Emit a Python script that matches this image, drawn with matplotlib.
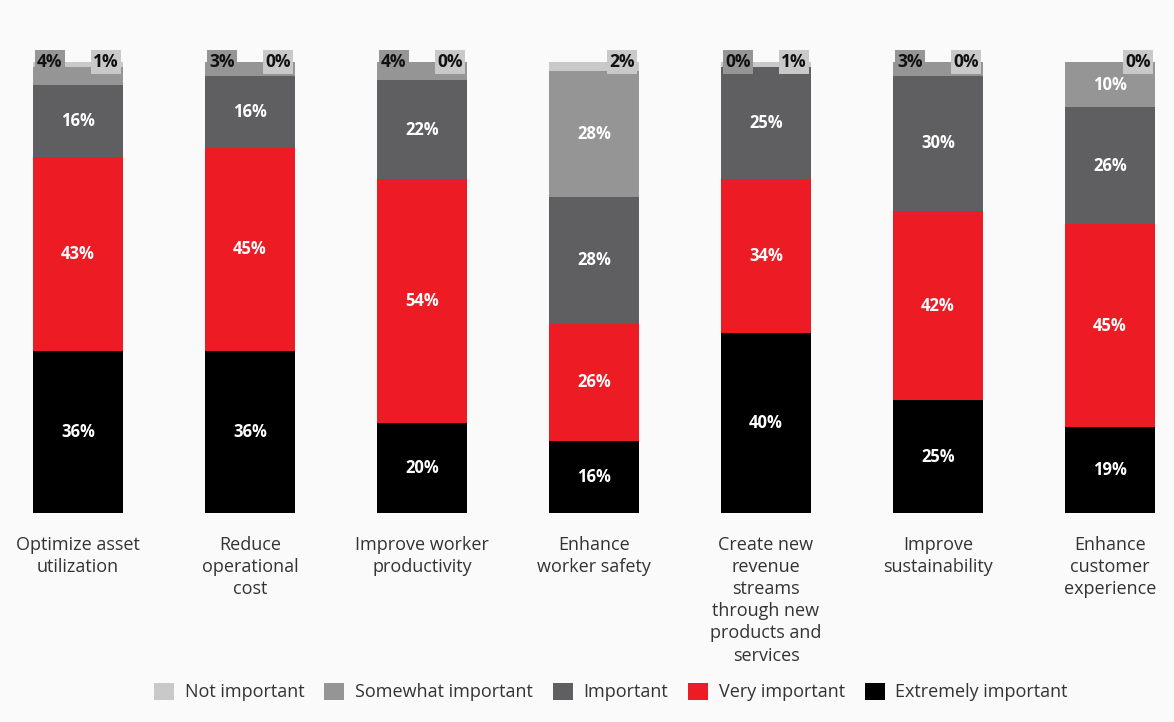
import numpy as np
from matplotlib import pyplot as plt
from matplotlib.patches import Patch

categories = ['Optimize asset\nutilization', 'Reduce\noperational\ncost',
              'Improve worker\nproductivity', 'Enhance\nworker safety',
              'Create new\nrevenue\nstreams\nthrough new\nproducts and\nservices',
              'Improve\nsustainability', 'Enhance\ncustomer\nexperience']

extremely = [36, 36, 20, 16, 40, 25, 19]
very = [43, 45, 54, 26, 34, 42, 45]
important = [16, 16, 22, 28, 25, 30, 26]
somewhat = [4, 3, 4, 28, 0, 3, 10]
not_imp = [1, 0, 0, 2, 1, 0, 0]

series = [('Extremely important', extremely, '#000000'),
          ('Very important', very, '#ed1c24'),
          ('Important', important, '#5f5f61'),
          ('Somewhat important', somewhat, '#959595'),
          ('Not important', not_imp, '#c9c9c9')]

plt.rcParams['font.family'] = ['Open Sans', 'DejaVu Sans']

fig = plt.figure(figsize=(11.74, 7.22), dpi=100, facecolor='#fafafa')
ax = fig.add_axes([0, 209 / 722, 1, 451 / 722])
ax.set_facecolor('#fafafa')

x = np.arange(len(categories))
width = 0.525
bottom = np.zeros(len(categories))

for name, vals, color in series:
    vals = np.array(vals, dtype=float)
    ax.bar(x, vals, width, bottom=bottom, color=color, label=name)
    # white labels for the segments big enough to hold them
    for i, v in enumerate(vals):
        if v >= 5:
            ax.text(x[i], bottom[i] + v / 2, f'{int(v)}%', ha='center', va='center',
                    color='white', fontsize=12, fontweight='bold')
    bottom += vals

# little boxed labels on top of the bars for the small segments
for i in range(len(categories)):
    top = bottom[i]
    if somewhat[i] < 5:
        ax.text(x[i] - width / 2 + 0.025, top, f'{somewhat[i]}%', ha='left', va='center',
                fontsize=12.5, fontweight='bold', color='#111111', clip_on=False,
                bbox=dict(boxstyle='square,pad=0.15', facecolor='#959595', edgecolor='none'))
    ax.text(x[i] + width / 2 - 0.025, top, f'{not_imp[i]}%', ha='right', va='center',
            fontsize=12.5, fontweight='bold', color='#111111', clip_on=False,
            bbox=dict(boxstyle='square,pad=0.15', facecolor='#c9c9c9', edgecolor='none'))

for i, cat in enumerate(categories):
    ax.text(x[i], -5, cat, ha='center', va='top', fontsize=13, color='#333333',
            linespacing=1.3)

ax.set_xlim(-78 / 172, (1174 - 78) / 172)
ax.set_ylim(0, 100)
ax.axis('off')

handles = [Patch(facecolor=c, label=n) for n, _, c in series[::-1]]
fig.legend(handles=handles, loc='center', bbox_to_anchor=(611 / 1174, 1 - 692 / 722),
           ncol=5, frameon=False, fontsize=13, handlelength=1.1, handleheight=1.1,
           handletextpad=0.6, columnspacing=1.1, labelcolor='#333333')

plt.savefig('out.png', dpi=100, facecolor=fig.get_facecolor())
plt.close()
